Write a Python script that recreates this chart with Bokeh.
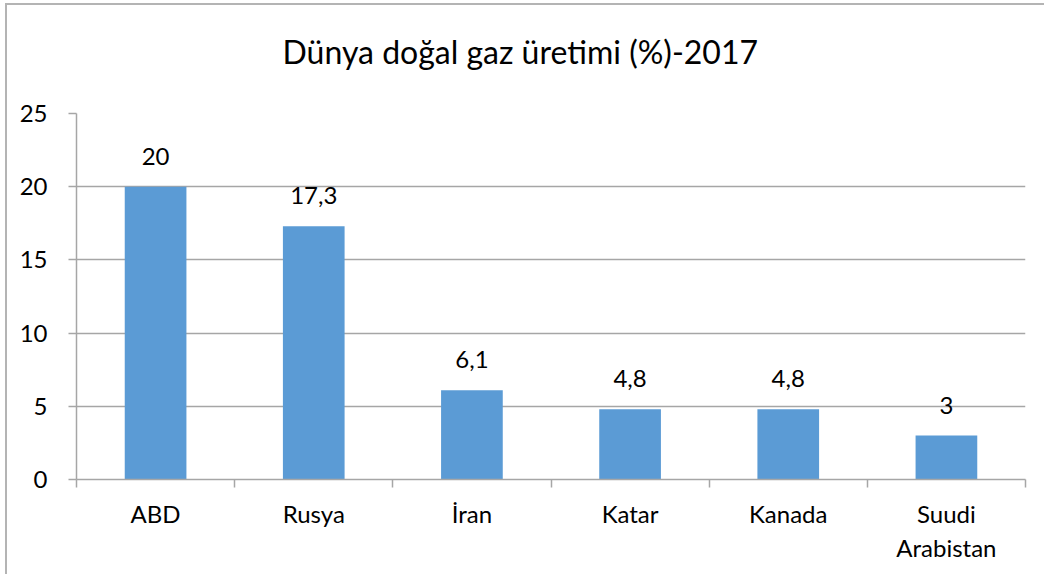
import numpy as np
from bokeh.plotting import figure
from bokeh.models import ColumnDataSource, Range1d, FixedTicker, LabelSet, Title
from bokeh.core.properties import value
from bokeh.embed import file_html
from bokeh.resources import INLINE

# --- data ---
categories = ["ABD", "Rusya", "İran", "Katar", "Kanada", "Suudi\nArabistan"]
values = [20, 17.3, 6.1, 4.8, 4.8, 3]
y_ticks = [0, 5, 10, 15, 20, 25]
title_text = "Dünya doğal gaz üretimi (%)-2017"

FONT = "Lato"
GREY = "#a6a6a6"
W, H = 1039, 571

xpos = list(np.arange(len(categories)) + 0.5)
labels = [f"{v:g}".replace(".", ",") for v in values]
src = ColumnDataSource(dict(x=xpos, top=values, label=labels))

p = figure(width=W, height=H, output_backend="svg", toolbar_location=None,
           x_range=Range1d(0, len(categories)), y_range=Range1d(0, 25),
           min_border_left=69, min_border_right=21, min_border_top=108, min_border_bottom=97)
p.styles = {"border-left": "2px solid #b4b4b4", "border-top": "2px solid #b4b4b4",
            "margin-left": "5px", "margin-top": "3px"}
p.outline_line_color = None

# spacer between title and plot area (closest to frame), then the real title
p.add_layout(Title(text=" ", text_font=FONT, text_font_size="10px", standoff=24), "above")
p.add_layout(Title(text=title_text, align="left", offset=206, text_font=FONT,
                   text_font_size="32px", text_font_style="normal", text_color="#000000",
                   standoff=10), "above")

p.vbar(x="x", top="top", width=0.39, source=src, fill_color="#5B9BD5", line_color=None)

p.add_layout(LabelSet(x="x", y="top", text="label", source=src, text_align="center",
                      text_baseline="alphabetic", y_offset=22, text_font=value(FONT),
                      text_font_size="24px", text_color="#000000"))

# x axis: labels at category centres, ticks at category boundaries
p.xaxis.ticker = FixedTicker(ticks=xpos, minor_ticks=list(range(len(categories) + 1)))
p.xaxis.major_label_overrides = {float(x): c for x, c in zip(xpos, categories)}
p.xaxis.major_tick_out = 0
p.xaxis.major_tick_in = 0
p.xaxis.minor_tick_out = 8
p.xaxis.minor_tick_in = 0
p.xaxis.minor_tick_line_color = GREY
p.xaxis.minor_tick_line_width = 1.5
p.xaxis.axis_line_color = GREY
p.xaxis.axis_line_width = 1.5
p.xaxis.major_label_text_font = FONT
p.xaxis.major_label_text_font_size = "24px"
p.xaxis.major_label_text_color = "#000000"
p.xaxis.major_label_standoff = 11
p.xgrid.visible = False

p.yaxis.ticker = FixedTicker(ticks=y_ticks)
p.yaxis.minor_tick_line_color = None
p.yaxis.major_tick_out = 8
p.yaxis.major_tick_in = 0
p.yaxis.major_tick_line_color = GREY
p.yaxis.major_tick_line_width = 1.5
p.yaxis.axis_line_color = GREY
p.yaxis.axis_line_width = 1.5
p.yaxis.major_label_text_font = FONT
p.yaxis.major_label_text_font_size = "24px"
p.yaxis.major_label_text_color = "#000000"
p.yaxis.major_label_standoff = 21
p.ygrid.ticker = FixedTicker(ticks=y_ticks)
p.ygrid.grid_line_color = GREY
p.ygrid.grid_line_width = 1.5

open("out.html", "w").write(file_html(p, INLINE))
